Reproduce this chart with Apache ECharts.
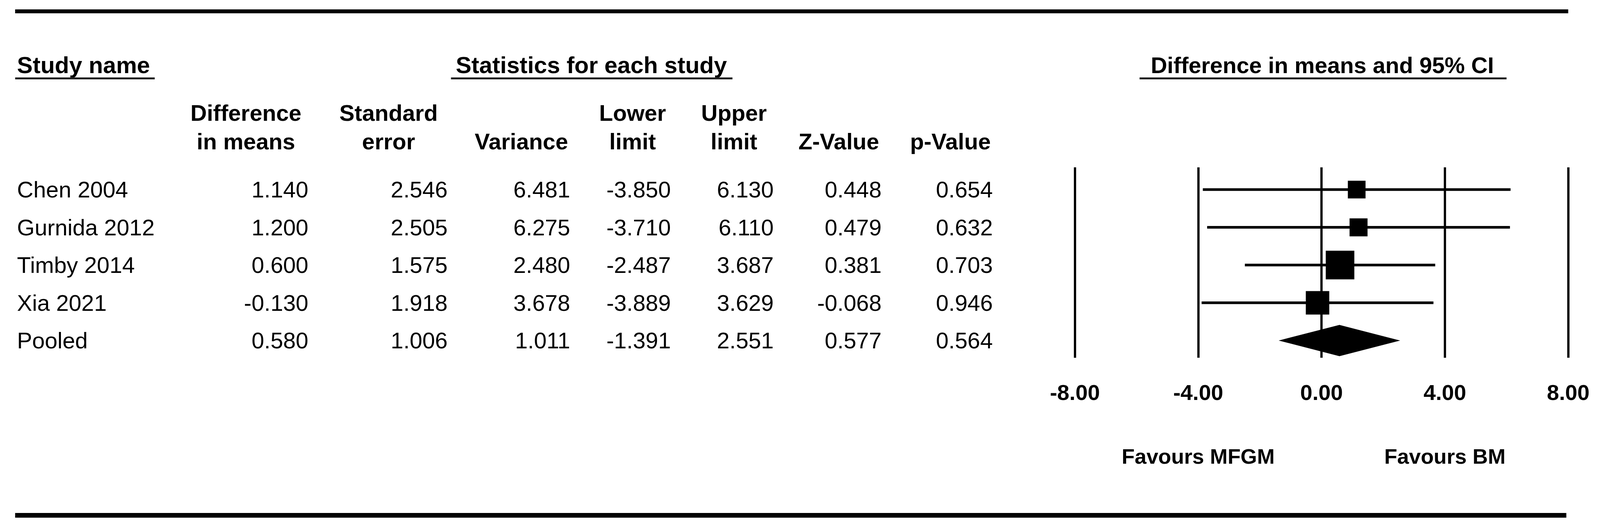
<!DOCTYPE html>
<html><head><meta charset="utf-8">
<script src="https://cdn.jsdelivr.net/npm/echarts@6/dist/echarts.min.js"></script>
<style>html,body{margin:0;padding:0;background:#fff;overflow:hidden;width:100%;height:100%}#c{width:100vw;height:100vh}</style>
</head><body><div id="c"></div>
<script>
// ---- data ----
const studies   = ['Chen 2004', 'Gurnida 2012', 'Timby 2014', 'Xia 2021', 'Pooled'];
const diffMeans = [1.140, 1.200, 0.600, -0.130, 0.580];
const stdErr    = [2.546, 2.505, 1.575, 1.918, 1.006];
const variance  = [6.481, 6.275, 2.480, 3.678, 1.011];
const lowerLim  = [-3.850, -3.710, -2.487, -3.889, -1.391];
const upperLim  = [6.130, 6.110, 3.687, 3.629, 2.551];
const zValue    = [0.448, 0.479, 0.381, -0.068, 0.577];
const pValue    = [0.654, 0.632, 0.703, 0.946, 0.564];
const xTicks    = [-8, -4, 0, 4, 8];
const favours   = [{text: 'Favours MFGM', at: -4}, {text: 'Favours BM', at: 4}];
const headerTop = ['Study name', 'Statistics for each study', 'Difference in means and 95% CI'];

const FONT = "'Liberation Sans', Arial, 'DejaVu Sans', sans-serif";
const pooledIdx = studies.length - 1;

// layout is designed on a 4229x1353 page and scaled to the real viewport
const el = document.getElementById('c');
const W = el.clientWidth || window.innerWidth || 4229;
const H = el.clientHeight || window.innerHeight || 1353;
const sx = W / 4229, sy = H / 1353, fs = Math.min(sx, sy);
const X = v => v * sx, Y = v => v * sy, F = v => v * fs;

const columns = [
  {h1: 'Difference', h2: 'in means', center: 650,  right: 815,  vals: diffMeans},
  {h1: 'Standard',   h2: 'error',    center: 1027, right: 1183, vals: stdErr},
  {h1: '',           h2: 'Variance', center: 1378, right: 1507, vals: variance},
  {h1: 'Lower',      h2: 'limit',    center: 1672, right: 1773, vals: lowerLim},
  {h1: 'Upper',      h2: 'limit',    center: 1940, right: 2045, vals: upperLim},
  {h1: '',           h2: 'Z-Value',  center: 2217, right: 2330, vals: zValue},
  {h1: '',           h2: 'p-Value',  center: 2512, right: 2624, vals: pValue}
];

const chart = echarts.init(el, null, {renderer: 'svg', width: W, height: H});

function txt(text, x, y, align, size, weight) {
  return {type: 'text', x: x, y: y, silent: true,
    style: {text: text, align: align, textAlign: align, verticalAlign: 'middle', textVerticalAlign: 'middle',
      fontSize: F(size), fontWeight: weight, fontFamily: FONT, fill: '#000'}};
}
function bar(x, y, w, h, c) {
  return {type: 'rect', shape: {x: X(x), y: Y(y), width: X(w), height: Y(h)}, style: {fill: c}, silent: true};
}

const graphics = [
  bar(40, 24, 4105, 10, '#000'),
  bar(40, 1312, 4100, 12, '#000'),
  txt(headerTop[0], X(45), Y(166), 'left', 62, 'bold'),
  bar(40, 198, 369, 5, '#222'),
  txt(headerTop[1], X(1563), Y(166), 'center', 62, 'bold'),
  bar(1192, 198, 744, 5, '#222'),
  txt(headerTop[2], X(3495), Y(166), 'center', 60, 'bold'),
  bar(3012, 198, 970, 5, '#222')
];
columns.forEach(c => {
  if (c.h1) graphics.push(txt(c.h1, X(c.center), Y(288), 'center', 60, 'bold'));
  graphics.push(txt(c.h2, X(c.center), Y(361), 'center', 60, 'bold'));
});

const option = {
  backgroundColor: '#fff',
  animation: false,
  grid: {left: X(2841), right: W - X(4145), top: Y(428), bottom: H - Y(915), containLabel: false},
  xAxis: {
    type: 'value', min: -8, max: 8, interval: 4,
    axisLine: {show: false}, axisTick: {show: false},
    axisLabel: {show: true, margin: Y(60), fontSize: F(58), fontWeight: 'bold', fontFamily: FONT, color: '#000',
      formatter: v => xTicks.indexOf(v) >= 0 ? v.toFixed(2) : ''},
    splitLine: {show: true, showMinLine: true, showMaxLine: true, lineStyle: {color: '#000', width: F(6)}}
  },
  yAxis: { // row index axis: rows 0..4 placed by the value scale
    type: 'value', inverse: true, min: -0.59, max: 4.456,
    axisLine: {show: false}, axisTick: {show: false}, axisLabel: {show: false}, splitLine: {show: false}
  },
  graphic: graphics,
  series: [
    { // table body, rows placed by the row axis
      type: 'custom', z: 5, silent: true,
      data: studies.map((s, i) => [0, i]),
      encode: {x: 0, y: 1},
      renderItem: (params, api) => {
        const i = api.value(1);
        const y = api.coord([0, i])[1];
        const ch = [{type: 'text', style: {text: studies[i], x: X(45), y: y, align: 'left', textAlign: 'left',
          verticalAlign: 'middle', textVerticalAlign: 'middle', fontSize: F(60), fontFamily: FONT, fill: '#000'}}];
        columns.forEach(c => ch.push({type: 'text', style: {text: c.vals[i].toFixed(3), x: X(c.right), y: y,
          align: 'right', textAlign: 'right', verticalAlign: 'middle', textVerticalAlign: 'middle',
          fontSize: F(60), fontFamily: FONT, fill: '#000'}}));
        return {type: 'group', children: ch};
      }
    },
    { // confidence intervals
      type: 'custom', z: 3, silent: true,
      data: studies.slice(0, pooledIdx).map((s, i) => [lowerLim[i], upperLim[i], i]),
      encode: {x: [0, 1], y: 2},
      renderItem: (params, api) => {
        const a = api.coord([api.value(0), api.value(2)]);
        const b = api.coord([api.value(1), api.value(2)]);
        return {type: 'line', shape: {x1: a[0], y1: a[1], x2: b[0], y2: b[1]},
          style: {stroke: '#000', lineWidth: F(7)}};
      }
    },
    { // study point estimates, size by inverse-variance weight
      type: 'scatter', z: 4, silent: true,
      symbol: 'rect',
      symbolSize: (val, p) => F(119 * Math.sqrt(1 / variance[p.dataIndex])),
      itemStyle: {color: '#000', opacity: 1},
      data: studies.slice(0, pooledIdx).map((s, i) => [diffMeans[i], i])
    },
    { // pooled diamond
      type: 'custom', z: 4, silent: true,
      data: [[lowerLim[pooledIdx], diffMeans[pooledIdx], upperLim[pooledIdx], pooledIdx]],
      encode: {x: [0, 1, 2], y: 3},
      renderItem: (params, api) => {
        const r = api.value(3);
        const l = api.coord([api.value(0), r]);
        const m = api.coord([api.value(1), r]);
        const u = api.coord([api.value(2), r]);
        const h = Y(40);
        return {type: 'polygon', shape: {points: [[l[0], l[1]], [m[0], m[1] - h], [u[0], u[1]], [m[0], m[1] + h]]},
          style: {fill: '#000'}};
      }
    }
  ]
};
chart.setOption(option);

// favours labels placed through the x scale
const favG = favours.map(f => txt(f.text, chart.convertToPixel({xAxisIndex: 0}, f.at), Y(1167), 'center', 56, 'bold'));
chart.setOption({graphic: graphics.concat(favG)});
</script></body></html>
